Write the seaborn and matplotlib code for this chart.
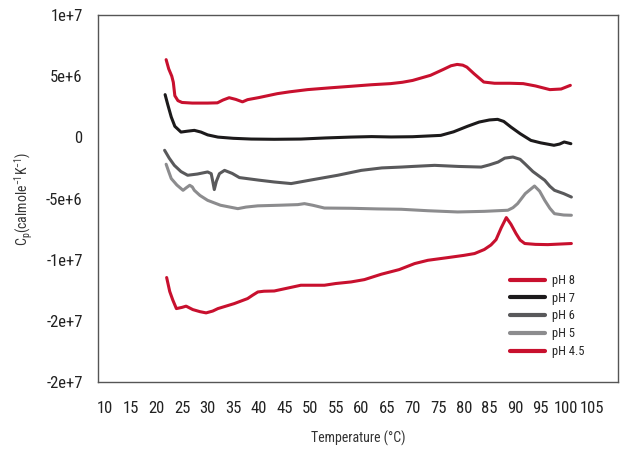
import matplotlib
matplotlib.use("Agg")
import matplotlib.pyplot as plt
from matplotlib import font_manager
import numpy as np
import pandas as pd
import seaborn as sns

# values, Cp in units of 1e6
ph8_t = [21.9, 22.4, 23.0, 23.3, 23.6, 24.2, 25.0, 27.0, 30.0, 31.9, 33.0, 34.2, 35.5, 36.8, 37.8, 40.0,
         43.6, 46.0, 49.5, 54.0, 57.9, 62.0, 65.7, 68.0, 70.0, 73.5, 76.0, 77.5, 78.7, 79.8, 80.6, 82.0,
         83.9, 86.0, 89.0, 91.6, 94.0, 96.8, 99.0, 100.8]
ph8_cp = [6.35, 5.6, 5.0, 4.5, 3.4, 3.0, 2.85, 2.8, 2.8, 2.82, 3.05, 3.24, 3.1, 2.9, 3.08, 3.25,
          3.57, 3.72, 3.9, 4.05, 4.17, 4.3, 4.39, 4.5, 4.65, 5.07, 5.55, 5.85, 5.96, 5.9, 5.74, 5.2,
          4.52, 4.42, 4.42, 4.39, 4.2, 3.9, 3.95, 4.25]

ph7_t = [21.7, 22.2, 22.9, 23.6, 24.8, 26.0, 27.4, 28.7, 30.0, 32.0, 35.0, 38.5, 43.0, 48.2, 53.0, 57.9,
         62.0, 65.8, 70.0, 75.5, 78.0, 80.7, 83.0, 85.0, 86.6, 87.8, 89.2, 91.0, 93.1, 95.0, 97.6, 98.7,
         99.6, 100.9]
ph7_cp = [3.49, 2.7, 1.66, 0.9, 0.43, 0.5, 0.57, 0.43, 0.2, 0.02, -0.08, -0.14, -0.16, -0.14, -0.05, 0.02,
          0.06, 0.03, 0.05, 0.16, 0.45, 0.9, 1.25, 1.42, 1.47, 1.3, 0.84, 0.3, -0.25, -0.45, -0.65, -0.55,
          -0.38, -0.52]

ph6_t = [21.6, 22.5, 23.5, 24.8, 26.1, 28.0, 30.0, 30.7, 31.0, 31.3, 31.7, 32.3, 33.3, 34.8, 36.2, 40.0,
         43.0, 46.3, 50.0, 55.4, 60.0, 64.0, 67.8, 70.0, 74.3, 79.0, 83.4, 85.0, 86.7, 88.0, 89.6, 91.0,
         91.9, 93.5, 95.8, 96.8, 97.7, 99.5, 101.0]
ph6_cp = [-1.06, -1.7, -2.29, -2.8, -3.1, -3.0, -2.83, -2.97, -3.6, -4.27, -3.6, -2.97, -2.7, -2.95, -3.29, -3.5,
          -3.65, -3.78, -3.5, -3.1, -2.7, -2.5, -2.43, -2.38, -2.29, -2.38, -2.43, -2.25, -2.02, -1.7, -1.61, -1.8,
          -2.15, -2.8, -3.51, -4.0, -4.33, -4.6, -4.88]

ph5_t = [21.9, 22.4, 22.9, 24.0, 25.2, 25.9, 26.5, 27.0, 27.4, 28.5, 30.0, 32.5, 35.9, 37.5, 39.8, 44.0,
         47.6, 48.9, 50.5, 52.8, 58.0, 63.0, 67.8, 73.0, 78.8, 84.0, 88.6, 89.6, 90.5, 92.0, 93.8, 94.8,
         95.8, 96.8, 97.7, 99.5, 101.0]
ph5_cp = [-2.2, -2.8, -3.37, -3.9, -4.33, -4.1, -3.92, -4.05, -4.33, -4.75, -5.15, -5.55, -5.83, -5.7, -5.6, -5.55,
          -5.5, -5.42, -5.55, -5.78, -5.8, -5.85, -5.88, -6.0, -6.1, -6.05, -5.96, -5.75, -5.42, -4.6, -3.98, -4.4,
          -5.15, -5.8, -6.24, -6.35, -6.37]

ph45_t = [22.0, 22.6, 23.2, 23.9, 25.0, 25.8, 27.1, 28.5, 29.7, 31.0, 32.0, 35.2, 37.8, 38.8, 39.8, 41.0,
          43.0, 48.2, 52.8, 55.0, 58.0, 60.6, 63.9, 67.4, 70.4, 73.0, 76.9, 80.0, 82.1, 84.0, 85.3, 86.3,
          87.3, 88.3, 89.2, 90.2, 91.0, 91.9, 94.0, 96.4, 101.0]
ph45_cp = [-11.46, -12.6, -13.3, -14.0, -13.9, -13.8, -14.08, -14.25, -14.35, -14.2, -14.0, -13.59, -13.18, -12.9, -12.64, -12.58,
           -12.56, -12.09, -12.09, -11.95, -11.82, -11.63, -11.19, -10.81, -10.32, -10.05, -9.83, -9.65, -9.5, -9.17, -8.8, -8.36,
           -7.4, -6.56, -7.1, -7.87, -8.4, -8.68, -8.75, -8.77, -8.68]

series_names = ["pH 8", "pH 7", "pH 6", "pH 5", "pH 4.5"]
series_t = [ph8_t, ph7_t, ph6_t, ph5_t, ph45_t]
series_cp = [ph8_cp, ph7_cp, ph6_cp, ph5_cp, ph45_cp]
colors = ["#c8102e", "#1c1a1b", "#59595b", "#8c8c8e", "#c8102e"]

x_ticks = list(range(10, 106, 5))
y_ticks = [1e7, 5e6, 0, -5e6, -1e7, -1.5e7, -2e7]
y_tick_labels = ["1e+7", "5e+6", "0", "-5e+6", "-1e+7", "-2e+7", "-2e+7"]

frames = []
for name, t, cp in zip(series_names, series_t, series_cp):
    frames.append(pd.DataFrame({"temp": t, "cp": np.array(cp) * 1e6, "series": name}))
data = pd.concat(frames, ignore_index=True)

sns.set_style("white")
available = {f.name for f in font_manager.fontManager.ttflist}
family = "DejaVu Sans"
for cand in ["Liberation Sans Narrow", "Roboto Condensed", "Liberation Sans", "Roboto"]:
    if cand in available:
        family = cand
        break
plt.rcParams["font.family"] = [family, "DejaVu Sans"]
plt.rcParams["mathtext.fontset"] = "custom"
plt.rcParams["mathtext.rm"] = family

fig = plt.figure(figsize=(6.24, 4.5), dpi=100)
ax = fig.add_axes([98 / 624, 1 - 382 / 450, 520 / 624, 367 / 450])

sns.lineplot(data=data, x="temp", y="cp", hue="series", hue_order=series_names,
             palette=dict(zip(series_names, colors)), sort=False, estimator=None,
             linewidth=2.2, ax=ax)

ax.set_xlim(8.6, 110.1)
ax.set_ylim(-2e7, 1e7)
ax.set_xticks(x_ticks)
ax.set_xticklabels([str(v) for v in x_ticks])
ax.set_yticks(y_ticks)
ax.set_yticklabels(y_tick_labels)
ax.tick_params(axis="both", direction="out", length=7, width=1, color="#555555",
               labelsize=12, labelcolor="#222222", pad=4)
ax.tick_params(axis="x", pad=7)
for sp in ax.spines.values():
    sp.set_color("#555555")
    sp.set_linewidth(1)

ax.set_xlabel("Temperature (°C)", fontsize=10, color="#333333", labelpad=10)
ax.set_ylabel(r"C$_\mathregular{p}$(calmole$^\mathregular{-1}$K$^\mathregular{-1}$)",
              fontsize=10, color="#333333", labelpad=8)

leg = ax.legend(loc="upper left", bbox_to_anchor=(0.77, 0.325), frameon=False,
                fontsize=9, handlelength=2.8, handletextpad=0.6, labelspacing=0.38)
for line in leg.get_lines():
    line.set_linewidth(3)

fig.savefig("out.png", dpi=100)
